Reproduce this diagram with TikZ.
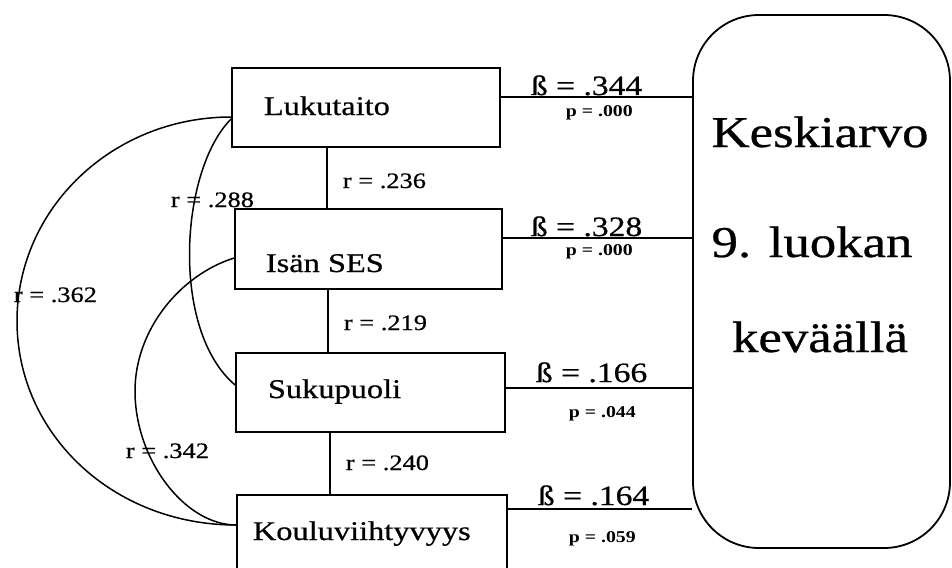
\documentclass[tikz,border=0pt]{standalone}
\usepackage{graphicx}
\usepackage{fontspec}
\setmainfont{Liberation Serif}[UprightFeatures={FakeBold=0.6}]
\newcommand\hwide[1]{\scalebox{1.2}[1]{#1}}
\begin{document}
\begin{tikzpicture}[x=1pt,y=-1pt,line width=1.8pt,
  box/.style={draw,rectangle,inner sep=0pt,line width=1.8pt},
  boxtxt/.style={inner sep=0pt,anchor=base west,font=\fontsize{27}{30}\selectfont},
  bigtxt/.style={inner sep=0pt,anchor=base,font=\fontsize{44}{48}\selectfont},
  rlab/.style={inner sep=0pt,anchor=base west,font=\fontsize{22}{24}\selectfont},
  blab/.style={inner sep=0pt,anchor=base west,font=\fontsize{28}{30}\selectfont},
  plab/.style={inner sep=0pt,anchor=base west,font=\bfseries\fontsize{16.5}{18}\selectfont},
  corr/.style={line width=1.5pt}]
\useasboundingbox (0,0) rectangle (952,567);
\clip (0,0) rectangle (952,567);
\fill[white] (0,0) rectangle (952,567);

% boxes
\node[box,minimum width=268pt,minimum height=79pt] (luku) at (366,107.5) {};
\node[box,minimum width=267pt,minimum height=80pt] (ises) at (368.5,249) {};
\node[box,minimum width=269pt,minimum height=79pt] (suku) at (370.5,392.5) {};
\node[box,minimum width=270pt,minimum height=105pt] (koulu) at (372,547.5) {};
\node[box,rounded corners=66pt,minimum width=257pt,minimum height=533pt] (big) at (821.5,281.5) {};

% box texts
\node[boxtxt] (lukut) at (263,115) {\hwide{Lukutaito}};
\node[boxtxt] (isest) at (265,272) {\hwide{Isän SES}};
\node[boxtxt] (sukut) at (267,398) {\hwide{Sukupuoli}};
\node[boxtxt] (koulut) at (252,540) {\hwide{Kouluviihtyvyys}};

\node[bigtxt] (big1) at (820,147) {\hwide{Keskiarvo}};
\node[bigtxt] (big2) at (812,257) {\hwide{9. luokan}};
\node[bigtxt] (big3) at (820,352) {\hwide{keväällä}};

% vertical correlation lines
\coordinate (v1) at (327,0);
\coordinate (v2) at (328,0);
\coordinate (v3) at (330,0);
\draw (luku.south -| v1) -- (ises.north -| v1);
\draw (ises.south -| v2) -- (suku.north -| v2);
\draw (suku.south -| v3) -- (koulu.north -| v3);
\node[rlab] (r1) at (342,188) {\hwide{r = .236}};
\node[rlab] (r2) at (343,330) {\hwide{r = .219}};
\node[rlab] (r3) at (345,470) {\hwide{r = .240}};

% beta lines
\coordinate (h1) at (0,97);
\coordinate (h2) at (0,238);
\coordinate (h3) at (0,388);
\coordinate (h4) at (0,509);
\draw (luku.east |- h1) -- (big.west |- h1);
\draw (ises.east |- h2) -- (big.west |- h2);
\draw (suku.east |- h3) -- (big.west |- h3);
\draw (koulu.east |- h4) -- (big.west |- h4);
\node[blab] (b1) at (530,95) {\hwide{ß = .344}};
\node[plab] (p1) at (565,117) {\hwide{p = .000}};
\node[blab] (b2) at (530,236) {\hwide{ß = .328}};
\node[plab] (p2) at (565,255) {\hwide{p = .000}};
\node[blab] (b3) at (535,382) {\hwide{ß = .166}};
\node[plab] (p3) at (568,417) {\hwide{p = .044}};
\node[blab] (b4) at (537,505) {\hwide{ß = .164}};
\node[plab] (p4) at (568,542) {\hwide{p = .059}};

% curved correlations
\coordinate (c1s) at (232,117);
\coordinate (c1e) at (237,525);
\draw[corr] (luku.west |- c1s) .. controls (113,117) and (17,208) .. (17,321)
      .. controls (17,434) and (113,525) .. (koulu.west |- c1e);
\coordinate (c2s) at (0,119);
\coordinate (c2e) at (0,385);
\draw[corr] (luku.west |- c2s) .. controls (180,170) and (170,330) .. (suku.west |- c2e);
\coordinate (c3s) at (0,258);
\coordinate (c3e) at (0,525);
\draw[corr] (ises.west |- c3s) .. controls (180,275) and (135,330) .. (135,391)
      .. controls (135,460) and (185,525) .. (koulu.west |- c3e);
\node[rlab] (r4) at (170,207) {\hwide{r = .288}};
\node[rlab] (r5) at (13,302) {\hwide{r = .362}};
\node[rlab] (r6) at (125,458) {\hwide{r = .342}};
\end{tikzpicture}
\end{document}
